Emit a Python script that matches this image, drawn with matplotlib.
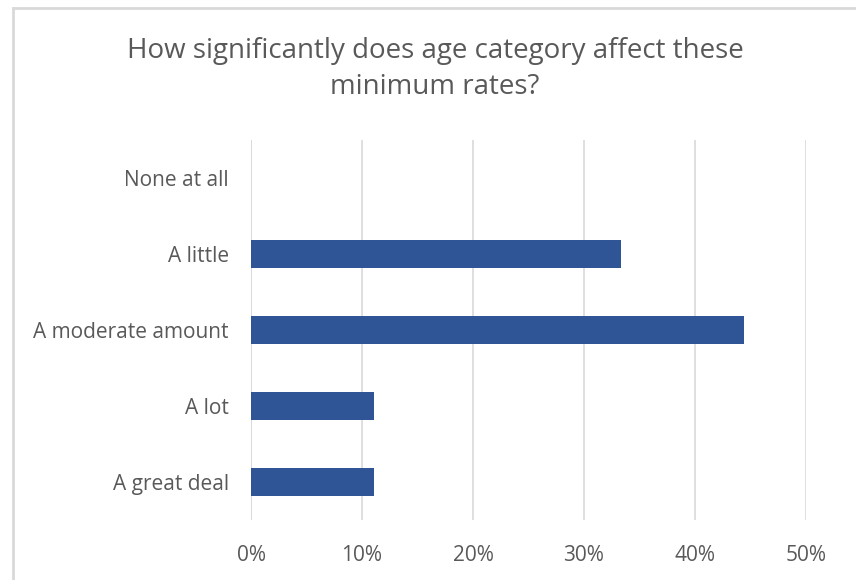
import matplotlib
matplotlib.use("Agg")
import matplotlib.pyplot as plt
from matplotlib.lines import Line2D
from matplotlib.ticker import FuncFormatter, MultipleLocator

categories = ["None at all", "A little", "A moderate amount", "A lot", "A great deal"]
values = [0.0, 33.33, 44.44, 11.11, 11.11]
title = "How significantly does age category affect these\nminimum rates?"

plt.rcParams['font.family'] = ['Open Sans', 'DejaVu Sans']
gray = "#595959"

fig = plt.figure(figsize=(8.56, 5.80), dpi=100)
ax = fig.add_axes([251/856, 1 - 520/580, (806-251)/856, (520-140)/580])

ypos = list(range(len(categories)))[::-1]
ax.barh(ypos, values, height=0.37, color="#2F5597", zorder=3)
ax.set_yticks(ypos)
ax.set_yticklabels(categories, fontsize=15, color=gray)
ax.set_ylim(-0.5, len(categories) - 0.5)
ax.set_xlim(0, 50)
ax.xaxis.set_major_locator(MultipleLocator(10))
ax.xaxis.set_major_formatter(FuncFormatter(lambda v, p: f"{int(round(v))}%"))
ax.tick_params(axis='x', labelsize=15, colors=gray, length=0, pad=18)
ax.tick_params(axis='y', length=0, pad=16)
ax.grid(axis='x', color="#D9D9D9", linewidth=1.2, zorder=0)
for s in ax.spines.values():
    s.set_visible(False)
ax.axvline(0, color="#D9D9D9", linewidth=1.2, zorder=1)

fig.text(435/856, 1 - 69/580, title, ha='center', va='center', fontsize=20,
         color=gray, linespacing=1.4)

fig.add_artist(Line2D([13/856, 1], [1 - 8/580, 1 - 8/580], color="#D9D9D9", linewidth=2))
fig.add_artist(Line2D([13/856, 13/856], [0, 1 - 8/580], color="#D9D9D9", linewidth=2))

fig.savefig("out.png", dpi=100)
